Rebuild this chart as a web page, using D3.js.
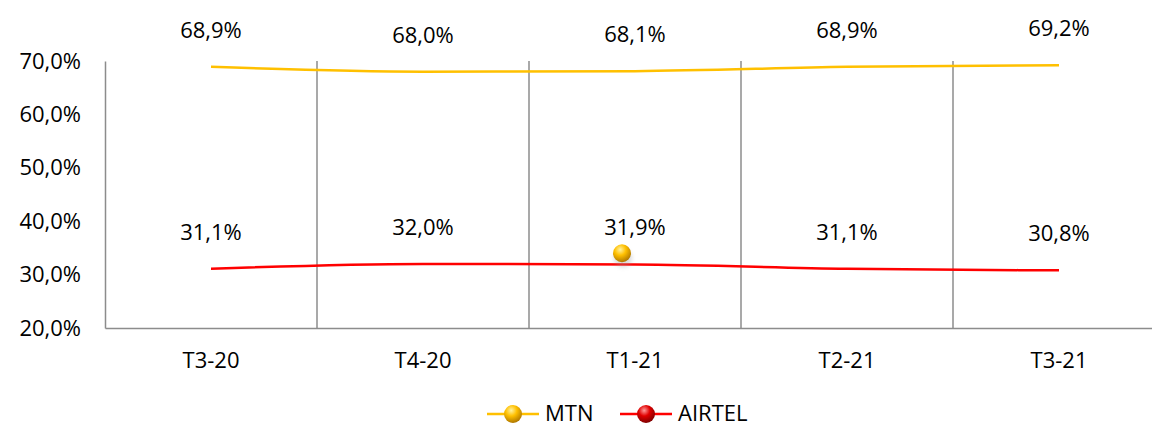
<!DOCTYPE html>
<html><head><meta charset="utf-8">
<script src="https://cdn.jsdelivr.net/npm/d3@7"></script>
<style>body{margin:0;background:#fff}svg{display:block;font-family:"Open Sans","Noto Sans",sans-serif}</style>
</head><body>
<svg id="c" width="1152" height="428"></svg>
<script>
const categories = ["T3-20","T4-20","T1-21","T2-21","T3-21"];
const mtn = [68.9, 68.0, 68.1, 68.9, 69.2];
const airtel = [31.1, 32.0, 31.9, 31.1, 30.8];
const yTicks = [20,30,40,50,60,70];
const seriesNames = ["MTN","AIRTEL"];
const seriesColors = ["#FFC000","#FF0000"];

const svg = d3.select("#c");
const mLeft = 105, mTop = 61, mBottom = 328;
const band = 212;
const fs = 22;
const x = d3.scaleBand().domain(categories).range([mLeft, mLeft + band*categories.length]).padding(0);
const y = d3.scaleLinear().domain([20,70]).range([mBottom, mTop]);
const fmt = v => v.toFixed(1).replace(".", ",") + "%";

const defs = svg.append("defs");
function ball(id, light, mid, dark){
  const g = defs.append("radialGradient").attr("id", id).attr("cx","40%").attr("cy","30%").attr("r","70%");
  g.append("stop").attr("offset","0%").attr("stop-color", light);
  g.append("stop").attr("offset","45%").attr("stop-color", mid);
  g.append("stop").attr("offset","100%").attr("stop-color", dark);
}
ball("gy","#FFF2A0","#FFC000","#B07800");
ball("gr","#FF9A9A","#E00000","#800000");
const blur = defs.append("filter").attr("id","sh").attr("x","-50%").attr("y","-50%").attr("width","200%").attr("height","200%");
blur.append("feGaussianBlur").attr("stdDeviation",2);

// gridlines (category boundaries)
svg.append("g").selectAll("line").data(categories.slice(1)).join("line")
  .attr("x1", d => x(d)).attr("x2", d => x(d)).attr("y1", mTop).attr("y2", mBottom)
  .attr("stroke","#8c8c8c").attr("stroke-width",1.5);

// axes
const yAxis = svg.append("g").attr("transform",`translate(${mLeft},0)`)
  .call(d3.axisLeft(y).tickValues(yTicks).tickFormat(d => d.toFixed(1).replace(".",",")+"%").tickSize(0).tickPadding(24));
yAxis.select(".domain").attr("stroke","#8c8c8c").attr("stroke-width",1.5);
yAxis.selectAll("text").attr("font-size",fs).attr("fill","#000").attr("font-family","Open Sans");

const xAxis = svg.append("g").attr("transform",`translate(0,${mBottom})`)
  .call(d3.axisBottom(x).tickSize(0).tickPadding(24));
xAxis.select(".domain").attr("stroke","#8c8c8c").attr("stroke-width",1.5);
xAxis.selectAll("text").attr("font-size",fs).attr("fill","#000").attr("font-family","Open Sans");

const cx = d => x(d) + x.bandwidth()/2;
const line = d3.line().x((d,i) => cx(categories[i])).y(d => y(d)).curve(d3.curveMonotoneX);
[mtn, airtel].forEach((s, k) => {
  svg.append("path").datum(s).attr("d", line).attr("fill","none")
    .attr("stroke", seriesColors[k]).attr("stroke-width", 2.5);
  svg.append("g").selectAll("text").data(s).join("text")
    .attr("x", (d,i) => cx(categories[i])).attr("y", d => y(d) - 29)
    .attr("text-anchor","middle").attr("font-size",fs).attr("fill","#000")
    .text(fmt);
});

// stray MTN marker near T1-21
svg.append("circle").attr("cx", cx("T1-21") - 12).attr("cy", y(34.0)+5).attr("r",9).attr("fill","#999").attr("opacity",0.35).attr("filter","url(#sh)");
svg.append("circle").attr("cx", cx("T1-21") - 13).attr("cy", y(34.0)).attr("r",9).attr("fill","url(#gy)");

// legend
const legend = svg.append("g");
const lx = [487, 620];
seriesNames.forEach((n,k) => {
  const g = legend.append("g").attr("transform",`translate(${lx[k]},414)`);
  g.append("line").attr("x1",0).attr("x2",52).attr("stroke",seriesColors[k]).attr("stroke-width",2.5);
  g.append("circle").attr("cx",26).attr("r",9).attr("fill", k===0 ? "url(#gy)" : "url(#gr)");
  g.append("text").attr("x",58).attr("y",7).attr("font-size",fs).attr("fill","#000").text(n);
});
</script>
</body></html>
